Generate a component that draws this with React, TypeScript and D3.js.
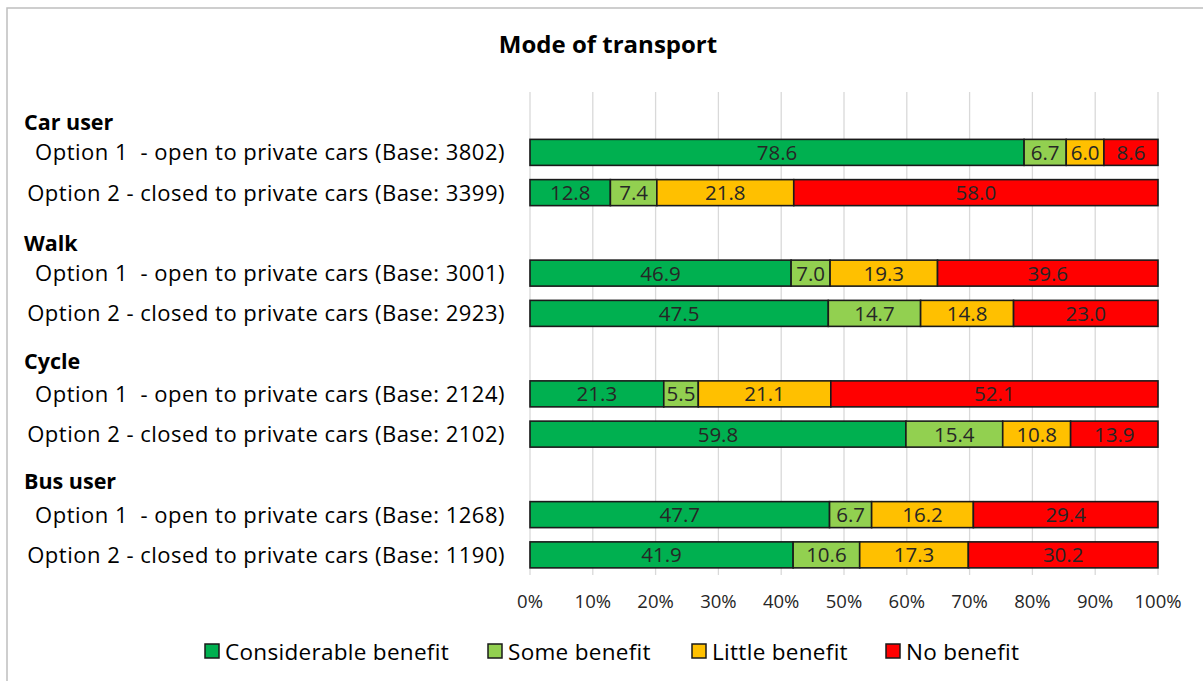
import React from "react";
import * as d3 from "d3";

const categories = [
  "Considerable benefit",
  "Some benefit",
  "Little benefit",
  "No benefit",
];
const colors = ["#00B050", "#92D050", "#FFC000", "#FF0000"];

const groups = ["Car user", "Walk", "Cycle", "Bus user"];
const rowLabels = [
  " Option 1  - open to private cars (Base: 3802)",
  "Option 2 - closed to private cars (Base: 3399)",
  " Option 1  - open to private cars (Base: 3001)",
  "Option 2 - closed to private cars (Base: 2923)",
  " Option 1  - open to private cars (Base: 2124)",
  "Option 2 - closed to private cars (Base: 2102)",
  " Option 1  - open to private cars (Base: 1268)",
  "Option 2 - closed to private cars (Base: 1190)",
];
const considerable = [78.6, 12.8, 46.9, 47.5, 21.3, 59.8, 47.7, 41.9];
const some = [6.7, 7.4, 7.0, 14.7, 5.5, 15.4, 6.7, 10.6];
const little = [6.0, 21.8, 19.3, 14.8, 21.1, 10.8, 16.2, 17.3];
const none = [8.6, 58.0, 39.6, 23.0, 52.1, 13.9, 29.4, 30.2];
const ticks = [0, 0.1, 0.2, 0.3, 0.4, 0.5, 0.6, 0.7, 0.8, 0.9, 1];

const W = 1203;
const H = 681;
const FONT = "'Open Sans', 'Noto Sans', sans-serif";

export default function App() {
  const series = [considerable, some, little, none];
  const rows = rowLabels.map((label, i) => {
    const r: any = { key: "r" + i, label };
    categories.forEach((c, k) => (r[c] = series[k][i]));
    return r;
  });
  const slots: string[] = [];
  groups.forEach((g, gi) => {
    slots.push("h" + gi);
    slots.push("r" + gi * 2);
    slots.push("r" + (gi * 2 + 1));
  });

  const x = d3.scaleLinear().domain([0, 1]).range([530, 1158]);
  const y = d3
    .scaleBand()
    .domain(slots)
    .range([92, 575])
    .paddingInner(0.354)
    .paddingOuter(0.177);

  const stack = d3
    .stack<any>()
    .keys(categories)
    .offset(d3.stackOffsetExpand);
  const stacked = stack(rows);

  const bw = y.bandwidth();

  return (
    <svg
      width={W}
      height={H}
      style={{ position: "absolute", left: 0, top: 0, background: "#fff" }}
      fontFamily={FONT}
    >
      <rect x={7} y={8} width={1300} height={800} fill="#fff" stroke="#BFBFBF" strokeWidth={1.5} />
      <text x={608} y={53} textAnchor="middle" fontSize={24} fontWeight="bold" fill="#000">
        Mode of transport
      </text>
      {ticks.map((t) => (
        <line key={t} x1={x(t)} x2={x(t)} y1={92} y2={575} stroke="#D9D9D9" strokeWidth={1.3} />
      ))}
      {ticks.map((t) => (
        <text key={"t" + t} x={x(t)} y={608} textAnchor="middle" fontSize={18.5} fill="#262626">
          {d3.format(".0%")(t)}
        </text>
      ))}
      {stacked.map((s, k) =>
        s.map((d, i) => {
          const yy = y(rows[i].key)!;
          const x0 = x(d[0]);
          const x1 = x(d[1]);
          return (
            <g key={k + "-" + i}>
              <rect x={x0} y={yy} width={x1 - x0} height={bw} fill={colors[k]} stroke="#1a1a1a" strokeWidth={1.6} />
              <text
                x={(x0 + x1) / 2}
                y={yy + bw / 2 + 7.5}
                textAnchor="middle"
                fontSize={20.5}
                fill="#262626"
              >
                {series[k][i].toFixed(1)}
              </text>
            </g>
          );
        })
      )}
      {groups.map((g, gi) => (
        <text key={g} x={24} y={y("h" + gi)! + bw / 2 + 18 + (gi >= 2 ? -3 : 0)} fontSize={21.5} fontWeight="bold" fill="#000">
          {g}
        </text>
      ))}
      {rows.map((r) => (
        <text
          key={r.key}
          x={505}
          y={y(r.key)! + bw / 2 + 8}
          textAnchor="end"
          fontSize={22}
          letterSpacing={0.5}
          fill="#000"
          style={{ whiteSpace: "pre" }}
        >
          {r.label}
        </text>
      ))}
      {categories.map((c, k) => {
        const lx = [205, 488, 692, 886][k];
        return (
          <g key={c}>
            <rect x={lx} y={644} width={14} height={14} fill={colors[k]} stroke="#1a1a1a" strokeWidth={1.5} />
            <text x={lx + 20} y={660} fontSize={22.5} letterSpacing={0.3} fill="#000">
              {c}
            </text>
          </g>
        );
      })}
    </svg>
  );
}
